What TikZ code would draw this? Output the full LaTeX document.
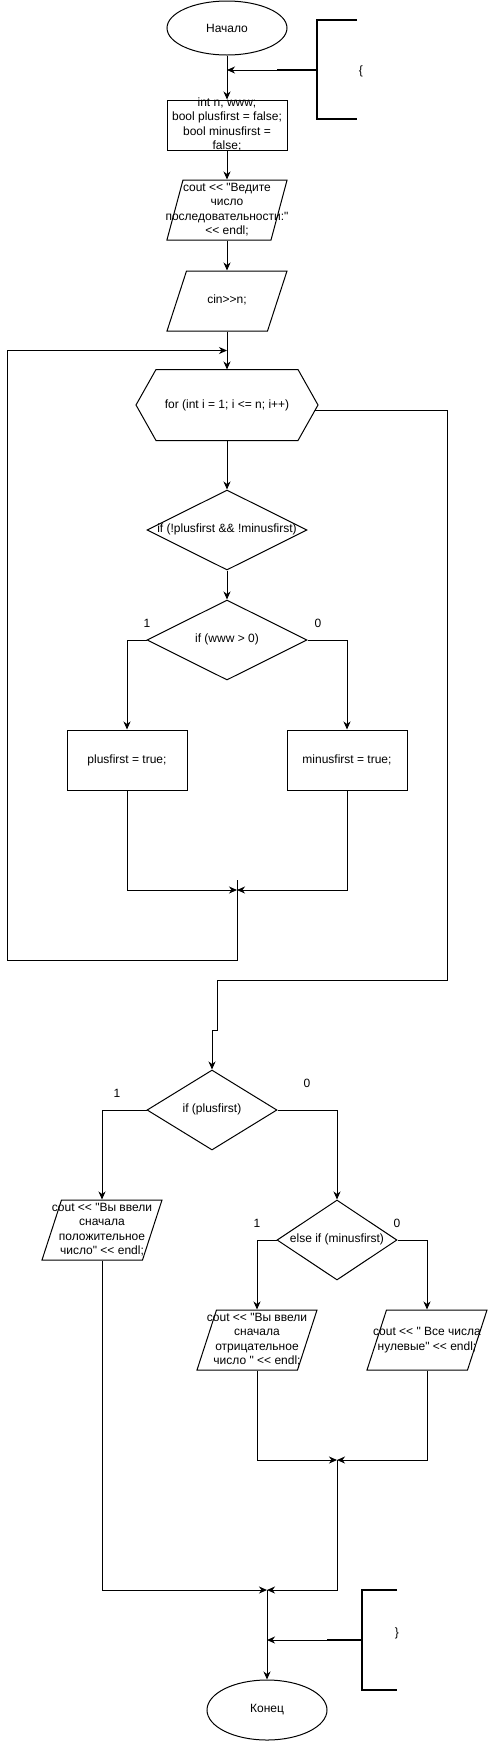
\documentclass[tikz,border=0pt]{standalone}
\usepackage{fontspec}
\newfontfamily\drawfont{Liberation Sans}
\usetikzlibrary{calc,shapes.geometric,arrows.meta}
\newcommand{\boxtext}[1]{\vbox to 0pt{\vss\hbox to 0pt{\hss\begin{tabular}{@{}c@{}}#1\end{tabular}\hss}\vss}}

\begin{document}
\begin{tikzpicture}[x=1pt, y=-1pt, line width=1pt,
    font=\drawfont\fontsize{12pt}{14.4pt}\selectfont,
    term/.style={draw, ellipse, inner sep=0pt, minimum width=120pt, minimum height=54pt},
    block/.style={draw, rectangle, inner sep=0pt, minimum width=120pt, minimum height=60pt},
    io/.style={draw, trapezium, trapezium left angle=72, trapezium right angle=108, inner xsep=40.5pt, inner ysep=30pt},
    cond/.style={draw, diamond, inner sep=0pt, minimum width=160pt, minimum height=80pt},
    arr/.style={-{Stealth[length=8pt, width=7pt, inset=2.5pt]}},
    note/.style={line width=2pt}]
    \useasboundingbox (0,0) rectangle (488,1741);

    \node [term] (start) at (227,28) {Начало};
    \node [block, minimum height=50pt] (init) at (227,125) {\boxtext{int n, www;\\bool plusfirst = false;\\bool minusfirst =\\false;}};
    \node [io, trapezium left angle=75, trapezium right angle=105, inner xsep=44pt] (ask) at (227,210) {\boxtext{cout << "Ведите\\число\\последовательности:"\\<< endl;}};
    \node [io] (read) at (227,301) {\boxtext{cin>>n;}};
    \node [inner sep=0pt, minimum width=141pt, minimum height=70pt] (for) at (227,405) {for (int i = 1; i <= n; i++)};
    \draw (for.north west) -- (for.north east) -- ([xshift=20pt]for.east) -- (for.south east) -- (for.south west) -- ([xshift=-20pt]for.west) -- cycle;
    \node [cond] (check) at (227,530) {\boxtext{if (!plusfirst \&\& !minusfirst)}};
    \node [cond] (sign) at (227,640) {\boxtext{if (www > 0)}};
    \node [block] (plus) at (127,760) {plusfirst = true;};
    \node [block] (minus) at (347,760) {minusfirst = true;};
    \node [cond, minimum width=130pt] (first) at (212,1110) {\boxtext{if (plusfirst)}};
    \node [io] (outplus) at (102,1230) {\boxtext{cout << "Вы ввели\\сначала\\положительное\\число" << endl;}};
    \node [cond, minimum width=120pt] (second) at (337,1240) {\boxtext{else if (minusfirst)}};
    \node [io] (outminus) at (257,1340) {\boxtext{cout << "Вы ввели\\сначала\\отрицательное\\число " << endl;}};
    \node [io] (outzero) at (427,1340) {\boxtext{cout << " Все числа\\нулевые" << endl;}};
    \node [term, minimum height=60pt] (stop) at (267,1710) {Конец};

    \node (s1) at (147,623) {1};
    \node (s0) at (318,623) {0};
    \node (f1) at (117,1093) {1};
    \node (f0) at (307,1083) {0};
    \node (e1) at (257,1223) {1};
    \node (e0) at (397,1223) {0};

    \coordinate (m1) at (237,890);
    \coordinate (back) at (7,960);
    \coordinate (exit) at (447,980);
    \coordinate (jog) at (217,1030);
    \coordinate (m2) at (337,1460);
    \coordinate (m3) at (267,1590);
    \coordinate (c1) at (277,70);
    \coordinate (c2) at (327,1640);

    \draw [arr] (start) -- (init);
    \draw [arr] (init) -- (ask);
    \draw [arr] (ask) -- (read);
    \draw [arr] (read) -- (for.north);
    \draw [arr] (for) -- (check);
    \draw [arr] (check) -- (sign);
    \draw [arr] (sign.west) -| (plus);
    \draw [arr] (sign.east) -| (minus);
    \draw [arr] (plus) |- (m1);
    \draw [arr] (minus) |- (m1);
    \draw [arr] ([yshift=10pt]m1) |- (back) |- ($(read.south)!.5!(for.north)$);
    \draw [arr] ([xshift=17pt, yshift=-5pt]for.east) -| (exit) -| (jog) -| (first);
    \draw [arr] (first.west) -| (outplus);
    \draw [arr] (first.east) -| (second);
    \draw [arr] (second.west) -| (outminus);
    \draw [arr] (second.east) -| (outzero);
    \draw [arr] (outminus) |- (m2);
    \draw [arr] (outzero) |- (m2);
    \draw [arr] (m2) |- (m3);
    \draw [arr] (outplus) |- (m3);
    \draw [arr] (m3) -- (stop);

    \draw [note] (c1) -- (317,70);
    \draw [note] (357,20) -- (317,20) -- (317,119) -- (357,119);
    \draw [arr] (c1) -- (c1 -| start);
    \node (open) at (361,71) {\{};
    \draw [note] (c2) -- (362,1640);
    \draw [note] (397,1590) -- (362,1590) -- (362,1690) -- (397,1690);
    \draw [arr] (c2) -- (c2 -| stop);
    \node (close) at (397,1633) {\}};
\end{tikzpicture}
\end{document}
